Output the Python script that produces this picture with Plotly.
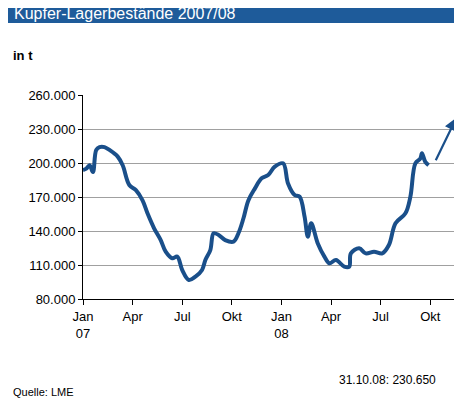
import plotly.graph_objects as go

# months since Jan 2007 and stock in tonnes
months = [0.0, 0.2, 0.4, 0.6, 0.8, 1.0, 1.3, 1.6, 2.1, 2.4, 2.8, 3.2, 3.6, 3.9, 4.3, 4.7,
          5.0, 5.4, 5.7, 6.0, 6.4, 6.8, 7.2, 7.4, 7.7, 7.9, 8.2, 8.6, 9.1, 9.4, 9.7, 10.0,
          10.4, 10.8, 11.2, 11.6, 12.1, 12.4, 12.8, 13.1, 13.4, 13.6, 13.8, 14.2, 14.6,
          14.9, 15.3, 15.8, 16.1, 16.2, 16.7, 17.1, 17.6, 18.1, 18.5, 18.9, 19.5, 19.8,
          20.1, 20.4, 20.5, 20.7, 20.9]
stock = [193800, 195000, 198000, 192000, 211500, 214000, 214000, 211500, 205600, 198000,
         180600, 176000, 167000, 155600, 142400, 132000, 121800, 116000, 117400, 105600,
         96800, 99700, 105600, 114400, 123200, 138000, 136500, 132000, 130600, 138000,
         151000, 167000, 177600, 186500, 189400, 196800, 199700, 182000, 171800, 170300,
         152600, 135000, 146800, 129000, 117400, 111500, 114400, 108500, 108500, 120300,
         124700, 120300, 121800, 120300, 127600, 146800, 155600, 170300, 199700, 204000,
         208500, 201000, 198000]
tick_pos = [0, 3, 6, 9, 12, 15, 18, 21]
tick_text = ["Jan<br>07", "Apr", "Jul", "Okt", "Jan<br>08", "Apr", "Jul", "Okt"]
y_ticks = [80000, 110000, 140000, 170000, 200000, 230000, 260000]
y_text = ["80.000", "110.000", "140.000", "170.000", "200.000", "230.000", "260.000"]

blue = "#1a4f8a"
T, B, L, R = 87, 291, 75, 452  # plot area in page pixels
OFF = 8  # rendering offset vs reference


def py(pix):  # reference pixel y -> paper y
    return (B - (pix - OFF)) / (B - T)


def px(pix):
    return (pix - L) / (R - L)


fig = go.Figure()
fig.add_trace(go.Scatter(x=months, y=stock, mode="lines",
                         line=dict(color=blue, width=4), line_shape="spline"))

# trend arrow
fig.add_annotation(x=22.6, y=240300, ax=21.29, ay=201100, xref="x", yref="y",
                   axref="x", ayref="y", showarrow=True, arrowhead=2, arrowsize=1.2,
                   arrowwidth=2.2, arrowcolor=blue, text="")

fig.add_shape(type="rect", xref="paper", yref="paper", x0=-0.3, x1=1.2,
              y0=py(23), y1=py(-20), fillcolor="#1e5b9a", line_width=0, layer="below")

font = "Liberation Sans, Arial, sans-serif"
fig.add_annotation(text="Kupfer-Lagerbestände 2007/08", xref="paper", yref="paper",
                   x=px(4), y=py(13), xanchor="left", yanchor="middle",
                   showarrow=False, font=dict(color="white", size=16, family=font))
fig.add_annotation(text="<b>in t</b>", xref="paper", yref="paper",
                   x=px(3), y=py(55), xanchor="left", yanchor="middle",
                   showarrow=False, font=dict(color="black", size=13, family=font))
fig.add_annotation(text="Quelle: LME", xref="paper", yref="paper",
                   x=px(3), y=py(392), xanchor="left", yanchor="middle",
                   showarrow=False, font=dict(color="black", size=11, family=font))
fig.add_annotation(text="31.10.08: 230.650", xref="paper", yref="paper",
                   x=px(430), y=py(380), xanchor="right", yanchor="middle",
                   showarrow=False, font=dict(color="black", size=12, family=font))

fig.update_layout(
    width=462, height=408, showlegend=False,
    margin=dict(l=L, r=462 - R, t=T, b=408 - B),
    plot_bgcolor="white", paper_bgcolor="white",
    font=dict(family=font, size=13, color="black"),
)
fig.update_xaxes(range=[0, 22.8], tickvals=tick_pos, ticktext=tick_text,
                 showgrid=False, showline=True, linecolor="black", linewidth=1,
                 ticks="outside", ticklen=5, tickcolor="black", zeroline=False)
fig.update_yaxes(range=[80000, 260000], tickvals=y_ticks, ticktext=y_text,
                 showgrid=True, gridcolor="#a0a0a0", gridwidth=1,
                 showline=True, linecolor="black", linewidth=1,
                 ticks="outside", ticklen=4, tickcolor="black", zeroline=False)

fig.write_html("out.html")
